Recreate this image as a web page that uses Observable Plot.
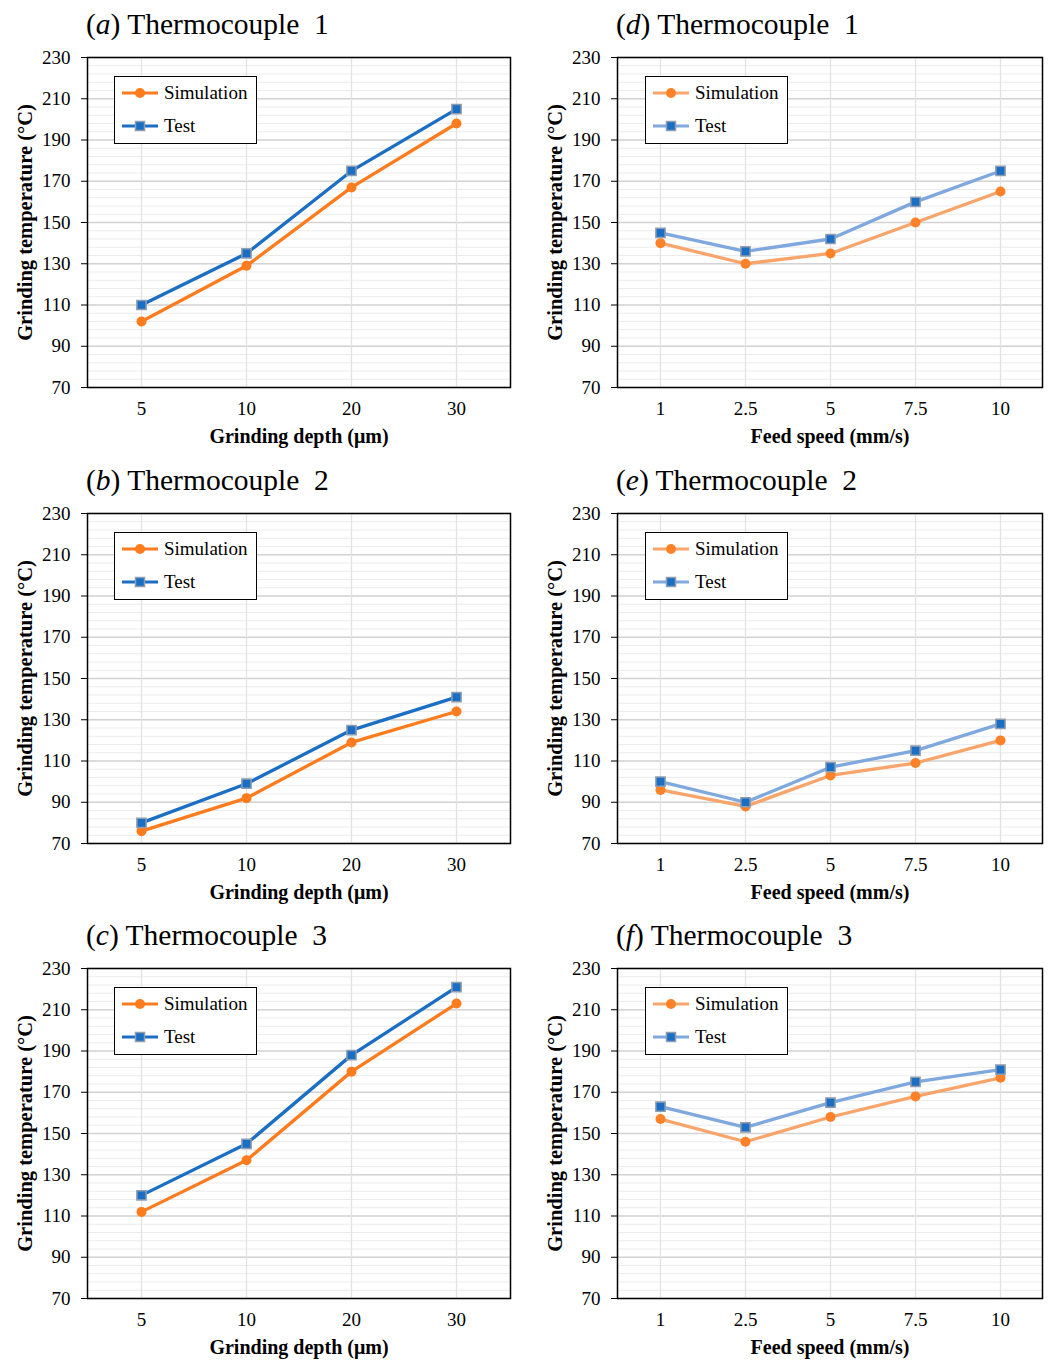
<!DOCTYPE html>
<html><head><meta charset="utf-8">
<script src="https://cdn.jsdelivr.net/npm/d3@7"></script>
<script src="https://cdn.jsdelivr.net/npm/@observablehq/plot@0.6"></script>
<style>
body{margin:0;background:#fff;}
#root{position:relative;width:1051px;height:1360px;font-family:"Liberation Serif","Times New Roman",serif;color:#000;overflow:hidden;}
.panel{position:absolute;width:521px;height:1360px;}
.title{position:absolute;font-size:29.5px;white-space:pre;line-height:1;}
.legend{position:absolute;box-sizing:border-box;width:143px;height:68px;border:1.5px solid #000;background:#fff;}
.lrow{display:flex;align-items:center;height:32.5px;padding-left:7px;font-size:19px;}
.lrow svg{margin-right:6px;}
</style></head><body><div id="root"></div>
<script>
// ---- data ----
const depthLabels = ["5", "10", "20", "30"];
const feedLabels = ["1", "2.5", "5", "7.5", "10"];
const yTicks = [70, 90, 110, 130, 150, 170, 190, 210, 230];
const simA = [102, 129, 167, 198];
const testA = [110, 135, 175, 205];
const simB = [76, 92, 119, 134];
const testB = [80, 99, 125, 141];
const simC = [112, 137, 180, 213];
const testC = [120, 145, 188, 221];
const simD = [140, 130, 135, 150, 165];
const testD = [145, 136, 142, 160, 175];
const simE = [96, 88, 103, 109, 120];
const testE = [100, 90, 107, 115, 128];
const simF = [157, 146, 158, 168, 177];
const testF = [163, 153, 165, 175, 181];
const seriesNames = ["Simulation", "Test"];
const yLabel = "Grinding temperature (°C)";
const depthAxisLabel = "Grinding depth (μm)";
const feedAxisLabel = "Feed speed (mm/s)";

const root = document.getElementById("root");
const rowTops = [57, 513, 968];
const colLefts = [0, 530];

const dark = {simLine: "#FF7C1E", simDot: "#FF7C1E", testLine: "#1A6EC3", testDot: "#1A6EC3"};
const light = {simLine: "#F8A56C", simDot: "#FF8128", testLine: "#7EA8DE", testDot: "#1A6EC3"};
const squareStroke = "#8E9DB0";

function swatch(lineColor, dotColor, square) {
  const ns = "http://www.w3.org/2000/svg";
  const s = document.createElementNS(ns, "svg");
  s.setAttribute("width", 36); s.setAttribute("height", 12);
  const l = document.createElementNS(ns, "line");
  l.setAttribute("x1", 0); l.setAttribute("x2", 36); l.setAttribute("y1", 6); l.setAttribute("y2", 6);
  l.setAttribute("stroke", lineColor); l.setAttribute("stroke-width", 3.2);
  s.appendChild(l);
  let m;
  if (square) {
    m = document.createElementNS(ns, "rect");
    m.setAttribute("x", 13.5); m.setAttribute("y", 1.5); m.setAttribute("width", 9); m.setAttribute("height", 9);
    m.setAttribute("stroke", squareStroke); m.setAttribute("stroke-width", 1.5);
  } else {
    m = document.createElementNS(ns, "circle");
    m.setAttribute("cx", 18); m.setAttribute("cy", 6); m.setAttribute("r", 5);
  }
  m.setAttribute("fill", dotColor);
  s.appendChild(m);
  return s;
}

function panel(col, row, letter, num, labels, sim, test, xLabel, pal) {
  const left = colLefts[col];
  const plotTop = rowTops[row];
  const width = col === 0 ? 520 : 521;
  const div = document.createElement("div");
  div.className = "panel";
  div.style.left = left + "px";
  div.style.top = "0px";
  root.appendChild(div);

  const title = document.createElement("div");
  title.className = "title";
  title.style.left = "86px";
  title.style.top = (plotTop - 46.7) + "px";
  title.innerHTML = `(<i>${letter}</i>) Thermocouple  ${num}`;
  div.appendChild(title);

  const simData = labels.map((x, i) => ({x, y: sim[i]}));
  const testData = labels.map((x, i) => ({x, y: test[i]}));

  const chart = Plot.plot({
    width,
    height: 409,
    marginTop: 17,
    marginBottom: 62,
    marginLeft: 87,
    marginRight: col === 0 ? 10 : 9,
    style: {fontFamily: '"Liberation Serif","Times New Roman",serif', fontSize: "19px", color: "#000", background: "transparent", overflow: "visible", maxWidth: "none"},
    x: {type: "point", domain: labels, padding: 0.5},
    y: {domain: [70, 230]},
    marks: [
      Plot.ruleY(d3.range(70, 231, 4), {stroke: "#ebebeb", strokeWidth: 1}),
      Plot.ruleY(yTicks, {stroke: "#d3d3d3", strokeWidth: 1.3}),
      Plot.ruleX(labels, {stroke: "#e3e3e3", strokeWidth: 1.3}),
      Plot.frame({stroke: "#000", strokeWidth: 1.5}),
      Plot.axisY(yTicks, {tickSize: 6, tickPadding: 11, label: null, fontSize: 19}),
      Plot.axisX({tickSize: 0, tickPadding: 14, label: null, fontSize: 19}),
      Plot.text([yLabel], {text: d => d, frameAnchor: "left", textAnchor: "middle", rotate: -90, dx: -62, fontWeight: "bold", fontSize: 20.5}),
      Plot.text([xLabel], {text: d => d, frameAnchor: "bottom", textAnchor: "middle", dy: 55, fontWeight: "bold", fontSize: 20}),
      Plot.line(simData, {x: "x", y: "y", stroke: pal.simLine, strokeWidth: 3.3}),
      Plot.line(testData, {x: "x", y: "y", stroke: pal.testLine, strokeWidth: 3.3}),
      Plot.dot(simData, {x: "x", y: "y", r: 5, fill: pal.simDot, symbol: "circle"}),
      Plot.dot(testData, {x: "x", y: "y", r: 5.2, fill: pal.testDot, stroke: squareStroke, strokeWidth: 1.5, symbol: "square"})
    ]
  });
  chart.style.position = "absolute";
  chart.style.left = "0px";
  chart.style.top = (plotTop - 17) + "px";
  chart.style.maxWidth = "none";
  chart.style.width = width + "px";
  chart.style.height = "409px";
  div.appendChild(chart);

  const lg = document.createElement("div");
  lg.className = "legend";
  lg.style.left = (col === 0 ? 114 : 115) + "px";
  lg.style.top = (plotTop + 19) + "px";
  const r1 = document.createElement("div"); r1.className = "lrow";
  r1.appendChild(swatch(pal.simLine, pal.simDot, false));
  r1.appendChild(document.createTextNode(seriesNames[0]));
  const r2 = document.createElement("div"); r2.className = "lrow";
  r2.appendChild(swatch(pal.testLine, pal.testDot, true));
  r2.appendChild(document.createTextNode(seriesNames[1]));
  lg.appendChild(r1); lg.appendChild(r2);
  div.appendChild(lg);
}

panel(0, 0, "a", "1", depthLabels, simA, testA, depthAxisLabel, dark);
panel(0, 1, "b", "2", depthLabels, simB, testB, depthAxisLabel, dark);
panel(0, 2, "c", "3", depthLabels, simC, testC, depthAxisLabel, dark);
panel(1, 0, "d", "1", feedLabels, simD, testD, feedAxisLabel, light);
panel(1, 1, "e", "2", feedLabels, simE, testE, feedAxisLabel, light);
panel(1, 2, "f", "3", feedLabels, simF, testF, feedAxisLabel, light);
</script></body></html>
